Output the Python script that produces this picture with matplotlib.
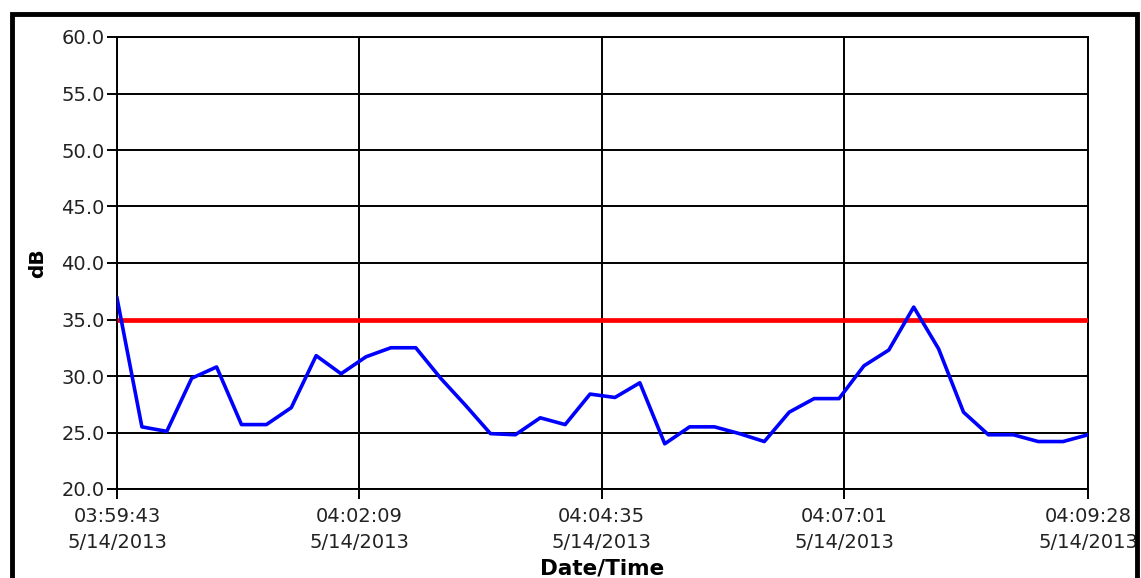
import matplotlib
matplotlib.use("Agg")
from matplotlib import pyplot as plt
from matplotlib.patches import Rectangle
import matplotlib.dates as mdates
import pandas as pd

# readings, one every 15 s
start = "2013-05-14 03:59:43"
db_values = [36.9, 25.5, 25.1, 29.8, 30.8, 25.7, 25.7, 27.2, 31.8, 30.2,
             31.7, 32.5, 32.5, 29.8, 27.4, 24.9, 24.8, 26.3, 25.7, 28.4,
             28.1, 29.4, 24.0, 25.5, 25.5, 24.9, 24.2, 26.8, 28.0, 28.0,
             30.9, 32.3, 36.1, 32.4, 26.8, 24.8, 24.8, 24.2, 24.2, 24.8]
threshold = 35.0

tick_times = ["2013-05-14 03:59:43", "2013-05-14 04:02:09", "2013-05-14 04:04:35",
              "2013-05-14 04:07:01", "2013-05-14 04:09:28"]
tick_labels = ["03:59:43\n5/14/2013", "04:02:09\n5/14/2013", "04:04:35\n5/14/2013",
               "04:07:01\n5/14/2013", "04:09:28\n5/14/2013"]
y_ticks = [20, 25, 30, 35, 40, 45, 50, 55, 60]

times = pd.date_range(start, periods=len(db_values), freq="15s")

plt.rcParams['font.family'] = ['DejaVu Sans']

fig = plt.figure(figsize=(11.41, 5.78), dpi=100)
ax = fig.add_axes([117 / 1141, 1 - 489 / 578, (1088 - 117) / 1141, (489 - 37) / 578])

# grid
ax.grid(True, color="black", linewidth=1.4, zorder=1)
ax.set_axisbelow(True)

# threshold line and data
ax.plot([times[0], times[-1]], [threshold, threshold], color="#ff0000", linewidth=3.4, zorder=3,
        solid_capstyle="butt")
ax.plot(times, db_values, color="#0000ff", linewidth=2.6, zorder=4)

ax.set_xlim(pd.Timestamp(tick_times[0]), pd.Timestamp(tick_times[-1]))
ax.set_ylim(20, 60)
ax.set_yticks(y_ticks)
ax.set_yticklabels(["%.1f" % v for v in y_ticks])
ax.set_xticks([mdates.date2num(pd.Timestamp(t)) for t in tick_times])
ax.set_xticklabels(tick_labels, linespacing=1.45)

ax.tick_params(axis="both", direction="out", length=7, width=1.4, colors="black",
               labelsize=14, labelcolor="#222222")
ax.tick_params(axis="y", pad=2)
ax.tick_params(axis="x", pad=6)

for s in ax.spines.values():
    s.set_linewidth(1.4)
    s.set_color("black")

ax.set_ylabel("dB", fontsize=14.5, fontweight="bold", labelpad=10)
ax.set_xlabel("Date/Time", fontsize=15.5, fontweight="bold", labelpad=4.5)

# outer frame
fig.patches.append(Rectangle((12 / 1141, -0.05), (1137 - 12) / 1141, 1.05 - 14 / 578,
                             transform=fig.transFigure, fill=False, edgecolor="black",
                             linewidth=3.5, clip_on=False))

plt.savefig("out.png", dpi=100)
